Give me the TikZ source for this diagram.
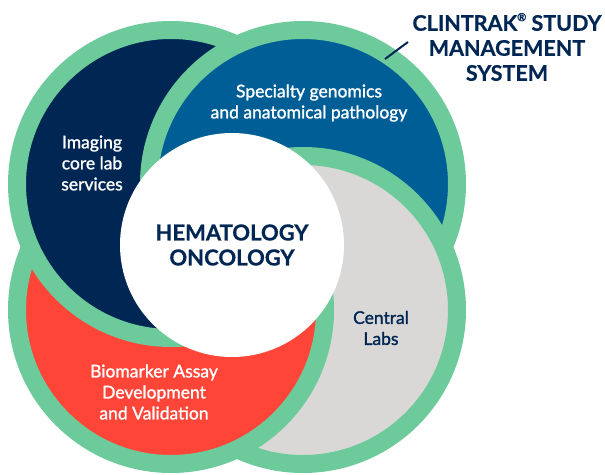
\documentclass[tikz,border=0pt]{standalone}
\usepackage{fontspec}
\setmainfont{Lato}
\newfontfamily\labelfont[FakeBold=1.4]{Lato}
\newfontfamily\headfont[BoldFeatures={FakeBold=0.6}]{Lato}
\definecolor{ringgreen}{RGB}{109,202,155}
\definecolor{navy}{RGB}{0,38,84}
\definecolor{ocean}{RGB}{0,94,150}
\definecolor{lightgrey}{RGB}{217,216,214}
\definecolor{coral}{RGB}{255,68,56}
\begin{document}
\begin{tikzpicture}[x=1pt,y=-1pt,
  petal/.style={circle, inner sep=0pt, minimum size=292pt, fill=#1},
  ringstroke/.style={draw=ringgreen, line width=18pt},
  label/.style={align=center, font=\labelfont\fontsize{17.5}{21}\selectfont, text=white},
  heading/.style={align=center, font=\headfont\bfseries\fontsize{21.5}{25}\selectfont, text=navy}]
\useasboundingbox (0,0) rectangle (605,474);
\node[petal=navy] (navyc) at (171,184) {};
\path[ringstroke] (navyc.center) circle[radius=154pt];
\node[petal=ocean] (bluec) at (303,184) {};
\path[ringstroke] (bluec.center) circle[radius=154pt];
\node[petal=lightgrey] (greyc) at (303,310) {};
\path[ringstroke] (greyc.center) circle[radius=154pt];
\node[petal=coral] (redc) at (171,310) {};
\path[ringstroke] (redc.center) circle[radius=154pt];
\begin{scope}
  \clip (redc.center) circle[radius=164pt];
  \node[petal=navy] (navyover) at (171,184) {};
  \path[ringstroke] (navyover.center) circle[radius=154pt];
\end{scope}
\begin{scope}
  \clip (redc.center) circle[radius=166pt];
  \clip (navyc.center) circle[radius=163pt];
  \node[petal=ocean] (blueover) at (303,184) {};
  \path[ringstroke] (blueover.center) circle[radius=154pt];
\end{scope}
\node[circle, inner sep=0pt, minimum size=224pt, fill=white] (core) at (232,245) {};
\node[heading, font=\headfont\bfseries\fontsize{22}{25}\selectfont] (coretext) at (core.center) {HEMATOLOGY\\ONCOLOGY};
\node[label] (imaging) at (92,163) {Imaging\\core lab\\services};
\node[label] (genomics) at (309,103) {Specialty genomics\\and anatomical pathology};
\node[label, text=navy] (central) at (381,328) {Central\\Labs};
\node[label] (biomarker) at (154,392) {Biomarker Assay\\Development\\and Validation};
\node[heading] (title) at (507,47) {CLINTRAK\raisebox{0.45em}{\fontsize{11}{11}\selectfont ®} STUDY\\MANAGEMENT\\SYSTEM};
\coordinate (leadA) at (385,59);
\coordinate (leadB) at (408,42);
\draw[navy, line width=2pt] (leadA) -- (leadB);
\end{tikzpicture}
\end{document}
